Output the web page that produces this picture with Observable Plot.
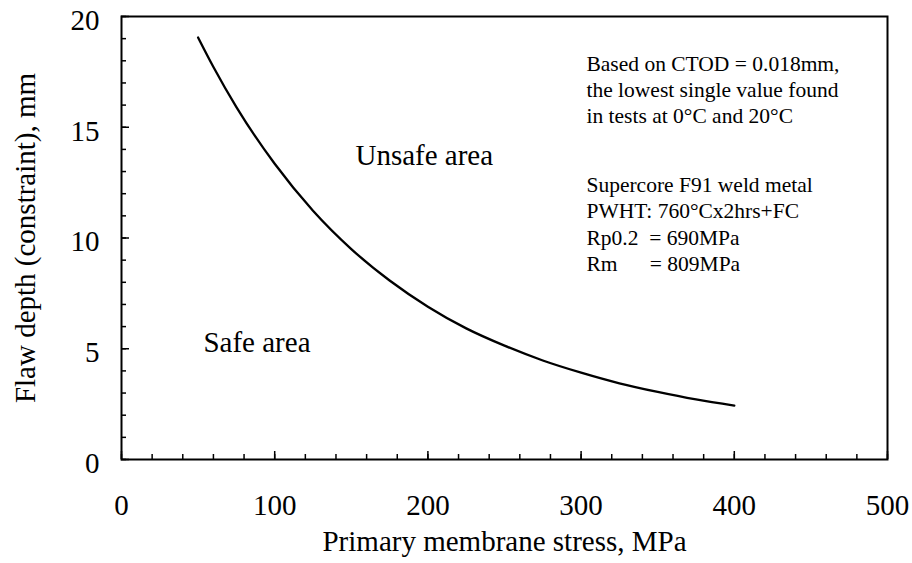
<!DOCTYPE html>
<html>
<head>
<meta charset="utf-8">
<script src="https://cdn.jsdelivr.net/npm/d3@7"></script>
<script src="https://cdn.jsdelivr.net/npm/@observablehq/plot@0.6"></script>
<style>
  html, body { margin: 0; padding: 0; background: #fff; }
  #chart svg { display: block; }
  #chart svg, #chart svg text { font-family: 'Liberation Serif', 'Times New Roman', Times, serif !important; }
</style>
</head>
<body>
<div id="chart"></div>
<script>
// Curve: flaw depth limit vs primary membrane stress
const stress = [50, 60, 75, 100, 125, 150, 175, 200, 225, 250, 275, 300, 325, 350, 375, 400];
const depth  = [19.05, 17.72, 15.91, 13.35, 11.23, 9.50, 8.08, 6.90, 5.92, 5.14, 4.47, 3.92, 3.44, 3.05, 2.71, 2.43];

const xMajor = [0, 100, 200, 300, 400, 500];
const xMinor = d3.range(0, 501, 20);
const yMajor = [0, 5, 10, 15, 20];
const yMinor = d3.range(0, 21, 1);

const xTitle = "Primary membrane stress, MPa";
const yTitle = "Flaw depth (constraint), mm";
const unsafeLabel = "Unsafe area";
const safeLabel = "Safe area";
const note1 = ["Based on CTOD = 0.018mm,", "the lowest single value found", "in tests at 0°C and 20°C"];
const note2 = ["Supercore F91 weld metal", "PWHT: 760°Cx2hrs+FC", "Rp0.2\u00a0\u00a0= 690MPa", "Rm\u00a0\u00a0\u00a0\u00a0\u00a0\u00a0= 809MPa"];

const curve = stress.map((s, i) => ({stress: s, depth: depth[i]}));
const font = "'Liberation Serif', 'Times New Roman', Times, serif";

const chart = Plot.plot({
  width: 912,
  height: 563,
  marginLeft: 121,
  marginRight: 25,
  marginTop: 16,
  marginBottom: 104,
  style: {fontFamily: font, background: "#fff", color: "#000"},
  x: {domain: [0, 500]},
  y: {domain: [0, 20]},
  marks: [
    // minor & major inward ticks
    Plot.axisX({ticks: xMinor, tickSize: -5, tickFormat: () => "", strokeWidth: 1.5, label: null}),
    Plot.axisX({ticks: xMajor, tickSize: -8, tickFormat: () => "", strokeWidth: 1.5, label: null}),
    Plot.axisY({ticks: yMinor, tickSize: -5, tickFormat: () => "", strokeWidth: 1.5, label: null}),
    Plot.axisY({ticks: yMajor, tickSize: -8, tickFormat: () => "", strokeWidth: 1.5, label: null}),
    // tick labels
    Plot.axisX({ticks: xMajor, tickSize: 0, tickPadding: 35, fontSize: 29, fontFamily: font, label: null, tickFormat: d => String(d)}),
    Plot.axisY({ticks: yMajor, tickSize: 0, tickPadding: 22, fontSize: 29, fontFamily: font, dy: 4, label: null, tickFormat: d => String(d)}),
    Plot.frame({stroke: "#000", strokeWidth: 2}),
    Plot.line(curve, {x: "stress", y: "depth", stroke: "#000", strokeWidth: 2.3, curve: "monotone-x"}),
    // axis titles
    Plot.text([xTitle], {frameAnchor: "bottom", dy: 82, fontSize: 29, fontFamily: font, fill: "#000", lineAnchor: "middle", textAnchor: "middle"}),
    Plot.text([yTitle], {frameAnchor: "left", dx: -96, rotate: -90, fontSize: 29, fontFamily: font, fill: "#000", lineAnchor: "middle", textAnchor: "middle"}),
    // area labels
    Plot.text([unsafeLabel], {x: 152.7, y: 13.72, textAnchor: "start", fontSize: 29, fontFamily: font, fill: "#000"}),
    Plot.text([safeLabel], {x: 53.5, y: 5.28, textAnchor: "start", fontSize: 29, fontFamily: font, fill: "#000"}),
    // notes
    Plot.text([note1.join("\n")], {x: 303.5, y: 16.75, textAnchor: "start", fontSize: 21.5, fontFamily: font, lineHeight: 1.23, fill: "#000"}),
    Plot.text([note2.join("\n")], {x: 303.5, y: 10.68, textAnchor: "start", fontSize: 21.5, fontFamily: font, lineHeight: 1.23, fill: "#000"})
  ]
});
document.getElementById("chart").appendChild(chart);
</script>
</body>
</html>
